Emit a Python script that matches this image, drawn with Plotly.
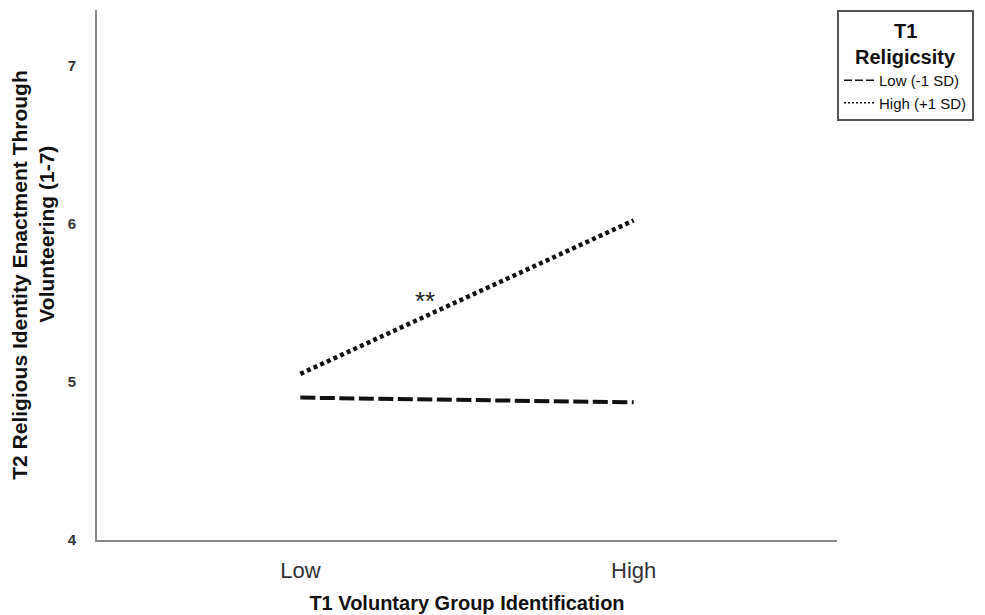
import plotly.graph_objects as go

categories = ["Low", "High"]
x_pos = [0, 1]
low_values = [4.90, 4.87]
high_values = [5.05, 6.02]
series_names = ["Low (-1 SD)", "High (+1 SD)"]
y_ticks = [4, 5, 6, 7]
sig_label = "**"
sig_x = 0.375
sig_y = 5.51

FONT = "Liberation Sans, Arial, sans-serif"

fig = go.Figure()
fig.add_trace(go.Scatter(x=x_pos, y=low_values, mode="lines", showlegend=False,
                         line=dict(color="#111111", width=4, dash="15px,4.5px")))
fig.add_trace(go.Scatter(x=x_pos, y=high_values, mode="lines", showlegend=False,
                         line=dict(color="#111111", width=4.5, dash="4px,3.3px")))
# legend entries (thin samples as in reference)
fig.add_trace(go.Scatter(x=[None], y=[None], mode="lines", name=series_names[0],
                         line=dict(color="#111111", width=1.3, dash="8px,3px")))
fig.add_trace(go.Scatter(x=[None], y=[None], mode="lines", name=series_names[1],
                         line=dict(color="#111111", width=1.3, dash="2px,2px")))

fig.add_annotation(x=sig_x, y=sig_y, text=sig_label, showarrow=False,
                   font=dict(family=FONT, size=26, color="#222"))

fig.update_layout(
    width=985, height=615,
    margin=dict(l=89, r=156, t=2, b=83),
    plot_bgcolor="white", paper_bgcolor="white",
    font=dict(family=FONT, color="#222"),
    xaxis=dict(range=[-0.61, 1.61], tickvals=x_pos, ticktext=categories,
               showgrid=False, zeroline=False, showline=True, linecolor="#888",
               linewidth=2, ticks="", tickfont=dict(size=22, color="#333"),
               ticklabelstandoff=10,
               title=dict(text="<b>T1 Voluntary Group Identification</b>",
                          font=dict(size=20, color="#111"), standoff=14)),
    yaxis=dict(range=[4, 7.35], tickvals=y_ticks, showgrid=False, zeroline=False,
               showline=True, linecolor="#888", linewidth=2, ticks="",
               tickfont=dict(size=15, color="#333", weight="bold"), ticklabelstandoff=16,
               title=dict(text="<b>T2 Religious Identity Enactment Through<br>"
                               + "&nbsp;" * 14 + "Volunteering (1-7)</b>",
                          font=dict(size=21, color="#111"), standoff=14)),
    legend=dict(x=1.0, y=1.0, xanchor="left", yanchor="top",
                bordercolor="#555", borderwidth=2, bgcolor="white",
                font=dict(family=FONT, size=15, color="#111"),
                title=dict(text="<b>" + "&nbsp;" * 7 + "T1<br>Religicsity</b>",
                           side="top center",
                           font=dict(size=20, color="#111")),
                tracegroupgap=0, itemwidth=30),
)

fig.write_html("out.html")
